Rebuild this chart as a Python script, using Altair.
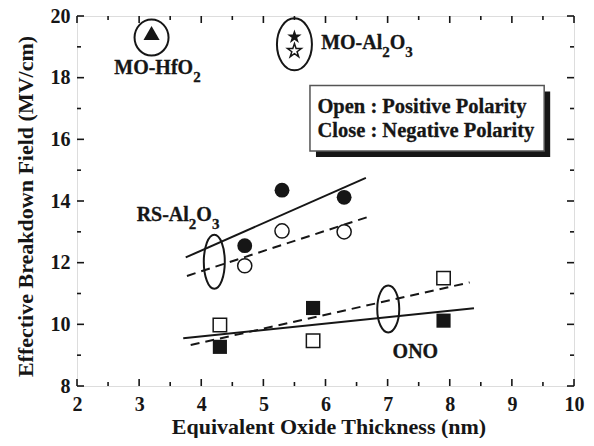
import altair as alt
import pandas as pd

W, H = 497, 370
XMIN, XMAX, YMIN, YMAX = 2, 10, 8, 20
INK = "#161616"
FONT = "Liberation Serif"
ANN, SUB = 20, 15

# ---------------- data ----------------
hfo2_x = [3.2]
hfo2_neg = [19.45]
moal_x = [5.5]
moal_neg = [19.32]
moal_pos = [18.87]
rs_x = [4.7, 5.3, 6.3]
rs_neg = [12.55, 14.35, 14.12]
rs_pos = [11.9, 13.03, 13.0]
ono_x = [4.3, 5.8, 7.9]
ono_neg = [9.27, 10.53, 10.12]
ono_pos = [9.98, 9.47, 11.5]

fit_series = ["RS neg", "RS pos", "ONO neg", "ONO pos"]
fit_x0 = [3.75, 3.77, 3.71, 3.83]
fit_x1 = [6.65, 6.74, 8.39, 8.32]
fit_y0 = [12.17, 11.57, 9.55, 9.33]
fit_y1 = [14.75, 13.52, 10.52, 11.36]
fit_dashed = [False, True, False, True]

ell_x = [3.2, 5.5, 4.21, 7.01]
ell_y = [19.3, 19.08, 12.03, 10.5]

label_x = [2.6, 5.93, 2.96, 7.08]
label_y = [18.13, 18.92, 13.35, 8.92]
label_parts = [
    [("MO-HfO", 0), ("2", 1)],
    [("MO-Al", 0), ("2", 1), ("O", 0), ("3", 1)],
    [("RS-Al", 0), ("2", 1), ("O", 0), ("3", 1)],
    [("ONO", 0)],
]

legend_lines = ["Open : Positive Polarity", "Close : Negative Polarity"]
legend_text_x = [5.87, 5.87]
legend_text_y = [16.85, 16.06]
legend_box = dict(x0=[5.75], x1=[9.52], y0=[15.62], y1=[17.75])

x_major = [2, 3, 4, 5, 6, 7, 8, 9, 10]
x_minor = [2.5, 3.5, 4.5, 5.5, 6.5, 7.5, 8.5, 9.5]
y_major = [8, 10, 12, 14, 16, 18, 20]
y_minor = [9, 11, 13, 15, 17, 19]

# ---------------- helpers ----------------
xs = alt.Scale(domain=[XMIN, XMAX], nice=False, zero=False)
ys = alt.Scale(domain=[YMIN, YMAX], nice=False, zero=False)

x_axis = alt.Axis(values=x_major, title="Equivalent Oxide Thickness (nm)", ticks=False, tickSize=0,
                  domain=False, grid=False, labelPadding=8, labelFontSize=20, labelFont=FONT,
                  labelFontWeight="bold", labelColor=INK, labelFlush=False, titleFont=FONT,
                  titleFontSize=22, titleFontWeight="bold", titleColor=INK,
                  titleBaseline="alphabetic", titleX=W / 2 + 3, titleY=47)
y_axis = alt.Axis(values=y_major, title="Effective Breakdown Field (MV/cm)", ticks=False, tickSize=0,
                  domain=False, grid=False, labelPadding=7, labelFontSize=20, labelFont=FONT,
                  labelFontWeight="bold", labelColor=INK, labelFlush=False, titleFont=FONT,
                  titleFontSize=22, titleFontWeight="bold", titleColor=INK,
                  titleBaseline="alphabetic", titleX=-45, titleY=H / 2 + 5)


def X(f):
    return alt.X(f, type="quantitative", scale=xs, axis=x_axis)


def Y(f):
    return alt.Y(f, type="quantitative", scale=ys, axis=y_axis)


layers = []

# legend box with shadow
box = pd.DataFrame(legend_box)
layers.append(alt.Chart(box).mark_rect(color=INK, xOffset=6, x2Offset=6, yOffset=6, y2Offset=6)
              .encode(x=X("x0"), x2="x1", y=Y("y0"), y2="y1"))
layers.append(alt.Chart(box).mark_rect(fill="white", stroke="#555555", strokeWidth=1.5)
              .encode(x=X("x0"), x2="x1", y=Y("y0"), y2="y1"))

# fit lines
rows = []
for s, a, b, c, d, dash in zip(fit_series, fit_x0, fit_x1, fit_y0, fit_y1, fit_dashed):
    rows.append(dict(series=s, x=a, y=c, dashed=dash))
    rows.append(dict(series=s, x=b, y=d, dashed=dash))
lines = pd.DataFrame(rows)
layers.append(alt.Chart(lines[~lines.dashed]).mark_line(color=INK, strokeWidth=2)
              .encode(x=X("x"), y=Y("y"), detail="series"))
layers.append(alt.Chart(lines[lines.dashed]).mark_line(color=INK, strokeWidth=2, strokeDash=[9, 6])
              .encode(x=X("x"), y=Y("y"), detail="series"))

STAR = ("M0,-1 L0.2245,-0.309 L0.951,-0.309 L0.3633,0.118 L0.588,0.809 L0,0.382 "
        "L-0.588,0.809 L-0.3633,0.118 L-0.951,-0.309 L-0.2245,-0.309 Z")


def pts(xv, yv):
    return pd.DataFrame({"x": xv, "y": yv})


def filled(df, shape, size):
    return alt.Chart(df).mark_point(shape=shape, size=size, filled=True, color=INK, opacity=1,
                                    strokeWidth=0).encode(x=X("x"), y=Y("y"))


def hollow(df, shape, size):
    return alt.Chart(df).mark_point(shape=shape, size=size, filled=True, fill="white", stroke=INK,
                                    strokeWidth=1.5, opacity=1).encode(x=X("x"), y=Y("y"))


layers += [
    filled(pts(hfo2_x, hfo2_neg), "triangle-up", 260),
    filled(pts(moal_x, moal_neg), STAR, 230),
    hollow(pts(moal_x, moal_pos), STAR, 210),
    filled(pts(rs_x, rs_neg), "circle", 220),
    hollow(pts(rs_x, rs_pos), "circle", 200),
    filled(pts(ono_x, ono_neg), "square", 200),
    hollow(pts(ono_x, ono_pos), "square", 180),
]


# ellipses
def ellipse_path(w, h):
    m = max(w, h)
    rx, ry = w / m, h / m
    k = 0.5523
    return (f"M{rx},0 C{rx},{k*ry} {k*rx},{ry} 0,{ry} C{-k*rx},{ry} {-rx},{k*ry} {-rx},0 "
            f"C{-rx},{-k*ry} {-k*rx},{-ry} 0,{-ry} C{k*rx},{-ry} {rx},{-k*ry} {rx},0 Z"), m * m


ell_dims = [(34, 36), (35, 52), (21, 54), (22, 47)]
for ex, ey, (w, h) in zip(ell_x, ell_y, ell_dims):
    path, size = ellipse_path(w, h)
    layers.append(alt.Chart(pts([ex], [ey])).mark_point(shape=path, size=size, filled=False, stroke=INK,
                                                        strokeWidth=2, opacity=1)
                  .encode(x=X("x"), y=Y("y")))

# annotation labels (Times-bold advance widths to place subscript segments)
ADV = {'M': .944, 'O': .778, '-': .333, 'H': .778, 'f': .333, 'A': .722, 'l': .278, 'R': .722,
       'S': .556, 'N': .722, '2': .5, '3': .5}
px_per_x = W / (XMAX - XMIN)
main_rows, sub_rows = [], []
for lx, ly, parts in zip(label_x, label_y, label_parts):
    off = 0.0
    for txt, is_sub in parts:
        fs = SUB if is_sub else ANN
        row = dict(x=lx + off / px_per_x, y=ly, t=txt)
        (sub_rows if is_sub else main_rows).append(row)
        off += sum(ADV.get(c, .5) for c in txt) * fs
layers.append(alt.Chart(pd.DataFrame(main_rows)).mark_text(
    align="left", baseline="alphabetic", font=FONT, fontWeight="bold", fontSize=ANN, color=INK,
    stroke=INK, strokeWidth=0.3)
    .encode(x=X("x"), y=Y("y"), text="t"))
layers.append(alt.Chart(pd.DataFrame(sub_rows)).mark_text(
    align="left", baseline="alphabetic", font=FONT, fontWeight="bold", fontSize=SUB, color=INK,
    stroke=INK, strokeWidth=0.3, dy=8)
    .encode(x=X("x"), y=Y("y"), text="t"))

# legend text
layers.append(alt.Chart(pd.DataFrame({"x": legend_text_x, "y": legend_text_y, "t": legend_lines}))
              .mark_text(align="left", baseline="alphabetic", font=FONT, fontWeight="bold",
                         fontSize=20.5, color=INK, stroke=INK, strokeWidth=0.3)
              .encode(x=X("x"), y=Y("y"), text="t"))


# inward ticks on all four sides
def tick_layers(vals, length, axis):
    df = pd.DataFrame({"v": vals})
    c = alt.Chart(df).mark_rule(color=INK, strokeWidth=1.6)
    if axis == "x":
        return [c.encode(x=X("v"), y=alt.value(H), y2=alt.value(H - length)),
                c.encode(x=X("v"), y=alt.value(0), y2=alt.value(length))]
    return [c.encode(y=Y("v"), x=alt.value(0), x2=alt.value(length)),
            c.encode(y=Y("v"), x=alt.value(W), x2=alt.value(W - length))]


layers += tick_layers(x_major, 7, "x") + tick_layers(x_minor, 4, "x")
layers += tick_layers(y_major, 7, "y") + tick_layers(y_minor, 4, "y")

chart = alt.layer(*layers).properties(
    width=W, height=H,
    padding={"left": 69, "top": 8, "right": 12, "bottom": 52},
    autosize=alt.AutoSizeParams(type="none"),
).configure_view(stroke=INK, strokeWidth=2).configure(background="white")

chart.save("out.html", embed_options={"renderer": "svg", "actions": False})
